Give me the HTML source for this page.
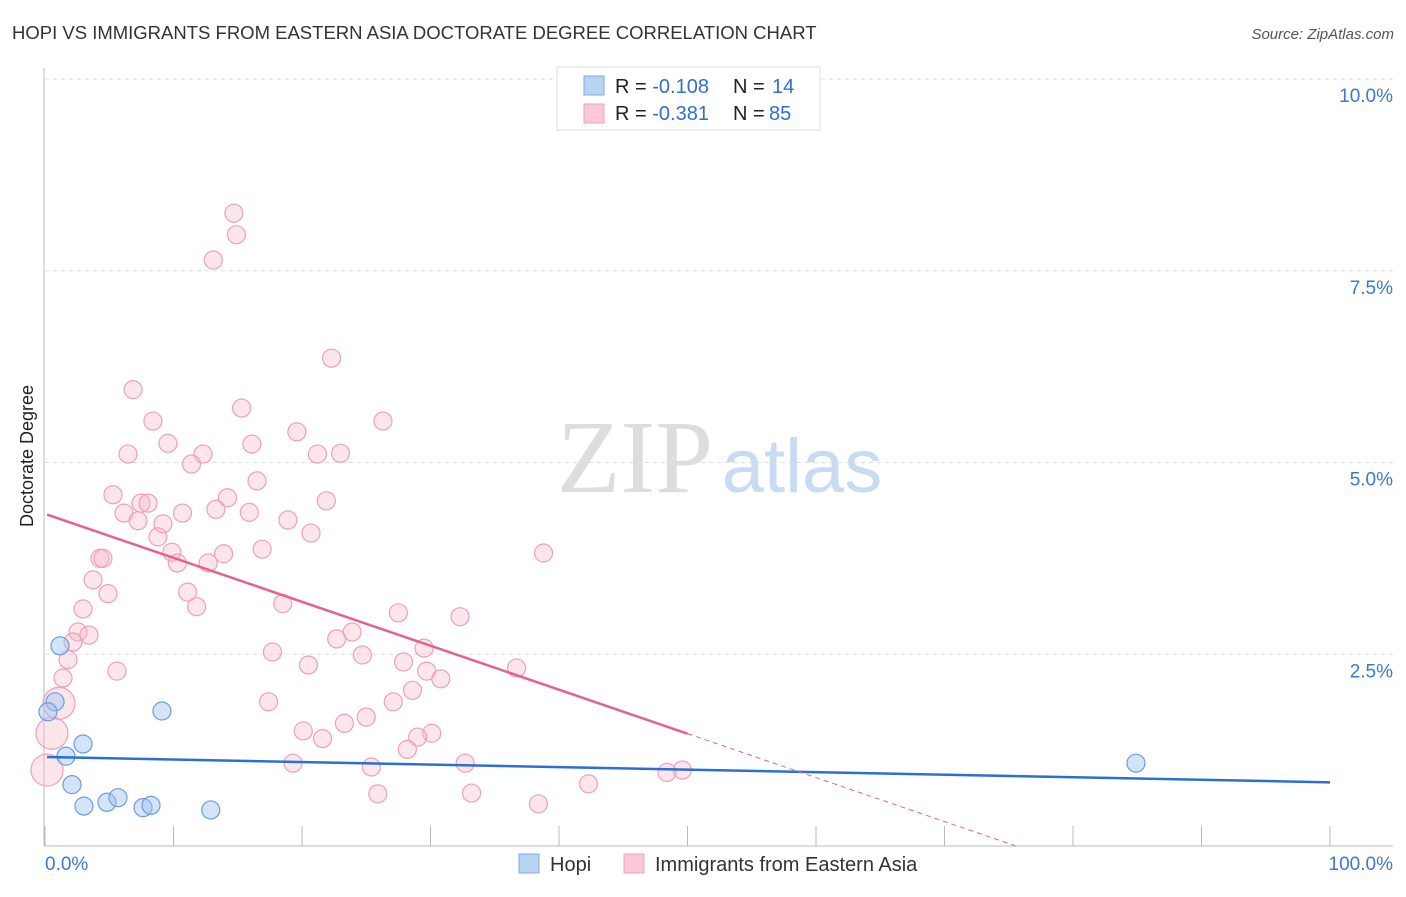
<!DOCTYPE html>
<html><head><meta charset="utf-8"><style>
body{margin:0;background:#fff;font-family:"Liberation Sans",sans-serif;}
</style></head><body>
<svg id="chart" width="1406" height="892" xmlns="http://www.w3.org/2000/svg">
<text x="12" y="39" font-size="18.5" fill="#333">HOPI VS IMMIGRANTS FROM EASTERN ASIA DOCTORATE DEGREE CORRELATION CHART</text>
<text x="1394" y="39" font-size="15" fill="#555" font-style="italic" text-anchor="end">Source: ZipAtlas.com</text>
<text x="33" y="456" font-size="18" fill="#222" text-anchor="middle" transform="rotate(-90 33 456)">Doctorate Degree</text>
<g>
<text x="635" y="492" font-size="104" fill="#ddd" font-family="Liberation Serif,serif" text-anchor="middle">ZIP</text>
<text x="802" y="492" font-size="76" fill="#c9daf2" text-anchor="middle">atlas</text>
</g>
<g id="grid"></g><g id="axes"></g><g id="marks"></g><g id="trends"></g>
<g>
<rect x="557" y="67" width="263" height="63" fill="#fff" stroke="#ddd"/>
<rect x="584" y="76" width="20" height="19" fill="#b9d3f5" stroke="#7faae6"/>
<rect x="584" y="104" width="20" height="19" fill="#fcc8d8" stroke="#eea0b8"/>
<text x="615" y="93" font-size="20" fill="#222">R = <tspan fill="#2f6fd0">-0.108</tspan><tspan x="733">N = </tspan><tspan fill="#2f6fd0" x="772">14</tspan></text>
<text x="615" y="120" font-size="20" fill="#222">R = <tspan fill="#2f6fd0">-0.381</tspan><tspan x="733">N = </tspan><tspan fill="#2f6fd0" x="769">85</tspan></text>
</g>
<g>
<rect x="519" y="854" width="20" height="19" fill="#b9d3f5" stroke="#7faae6"/>
<text x="550" y="871" font-size="20" fill="#333">Hopi</text>
<rect x="624" y="854" width="20" height="19" fill="#fcc8d8" stroke="#eea0b8"/>
<text x="655" y="871" font-size="20" fill="#333">Immigrants from Eastern Asia</text>
</g>
</svg>
<script>
const yTicks=[2.5,5.0,7.5,10.0];
const xTickLabels=["0.0%","100.0%"];
const hopiX=[1.17,0.78,0.23,2.96,1.63,2.1,3.03,4.82,5.68,7.63,8.25,12.9,9.1,84.9];
const hopiY=[2.61,1.88,1.75,1.33,1.17,0.80,0.52,0.57,0.63,0.50,0.53,0.47,1.76,1.08];
const pinkX=[14.7,14.9,13.1,22.3,6.85,8.4,15.3,26.3,9.57,16.1,19.6,6.46,12.3,11.4,21.2,23.0,5.29,16.5,7.47,8.02,14.2,21.9,6.15,10.7,13.3,15.9,7.24,9.18,18.9,8.79,20.7,9.88,4.28,4.51,13.9,16.9,10.3,12.7,38.8,3.74,4.9,11.1,2.96,11.8,18.5,27.5,32.3,2.57,3.42,23.9,2.18,22.7,29.5,17.7,1.79,24.7,20.5,27.9,36.7,5.6,29.7,30.8,1.4,28.6,17.4,1.09,27.1,25.0,23.3,20.1,21.6,30.1,29.0,0.54,28.2,19.3,25.4,32.7,49.6,48.4,0.16,25.9,33.2,42.3,38.4];
const pinkY=[8.25,7.97,7.64,6.36,5.95,5.54,5.71,5.54,5.25,5.24,5.40,5.11,5.11,4.98,5.11,5.12,4.58,4.76,4.47,4.47,4.54,4.50,4.34,4.34,4.39,4.35,4.24,4.20,4.25,4.03,4.08,3.83,3.75,3.75,3.81,3.87,3.69,3.69,3.82,3.47,3.29,3.31,3.09,3.12,3.16,3.04,2.99,2.79,2.75,2.79,2.66,2.70,2.58,2.53,2.43,2.49,2.36,2.40,2.32,2.28,2.28,2.18,2.19,2.03,1.88,1.86,1.88,1.68,1.60,1.50,1.40,1.47,1.42,1.47,1.26,1.08,1.03,1.08,0.99,0.96,0.99,0.68,0.69,0.81,0.55];
const pinkBig=[65,73,80];
const hopiTrend=[1.16,0.83];
const pinkTrend=[4.33,-0.0573];
const NS="http://www.w3.org/2000/svg";
const X=v=>45+v*12.85, Y=v=>846-v*76.7;
function mk(p,t,a){const e=document.createElementNS(NS,t);for(const k in a)e.setAttribute(k,a[k]);document.getElementById(p).appendChild(e);return e;}
yTicks.forEach(t=>{
 const l=mk('grid','line',{x1:45,x2:1393,y1:Y(t),y2:Y(t),stroke:'#ddd','stroke-dasharray':'4,4'});
 
 
 const tx=mk('grid','text',{x:1393,y:Y(t)+23,'font-size':19,fill:'#3a78d8','text-anchor':'end'});
 tx.textContent=t.toFixed(1)+'%';
 
 
});
mk('axes','line',{x1:44,x2:44,y1:68,y2:846,stroke:'#bbb'});
mk('axes','line',{x1:44,x2:1393,y1:846,y2:846,stroke:'#bbb'});
for(let i=0;i<=10;i++){mk('axes','line',{x1:X(i*10),x2:X(i*10),y1:826,y2:846,stroke:'#bbb'});}
const xl0=mk('axes','text',{x:45,y:870,'font-size':19,fill:'#3a78d8'});xl0.textContent=xTickLabels[0];


const xl1=mk('axes','text',{x:1393,y:870,'font-size':19,fill:'#3a78d8','text-anchor':'end'});xl1.textContent=xTickLabels[1];


pinkX.forEach((v,i)=>{
 const c=mk('marks','circle',{cx:X(v),cy:Y(pinkY[i]),r:pinkBig.includes(i)?16:9,fill:'rgba(248,180,200,0.35)',stroke:'#eea0b8','stroke-width':1.2});
 
 
});
hopiX.forEach((v,i)=>{
 const c=mk('marks','circle',{cx:X(v),cy:Y(hopiY[i]),r:9,fill:'rgba(160,195,240,0.45)',stroke:'#6a9de0','stroke-width':1.2});
 
 
});
const ht=mk('trends','line',{x1:X(0.16),y1:Y(hopiTrend[0]),x2:X(100),y2:Y(hopiTrend[1]),stroke:'#2a6fd6','stroke-width':2.5});


const pf=x=>pinkTrend[0]+pinkTrend[1]*x;
const pt=mk('trends','line',{x1:X(0.16),y1:Y(pf(0.16)),x2:X(50),y2:Y(pf(50)),stroke:'#e4628c','stroke-width':2.5});


const xe=-pinkTrend[0]/pinkTrend[1];
const pd=mk('trends','line',{x1:X(50),y1:Y(pf(50)),x2:X(xe),y2:Y(0),stroke:'#e4628c','stroke-width':1,'stroke-dasharray':'5,4'});


</script>
</body></html>
